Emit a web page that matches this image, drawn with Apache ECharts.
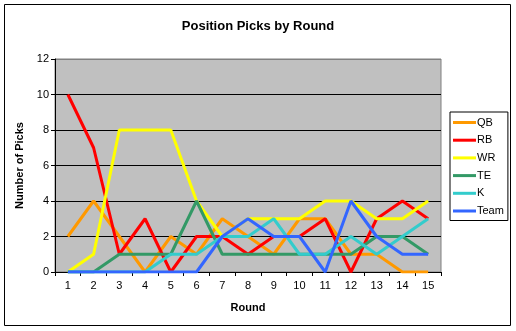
<!DOCTYPE html>
<html>
<head>
<meta charset="utf-8">
<script src="https://cdn.jsdelivr.net/npm/echarts@6/dist/echarts.min.js"></script>
<style>
html,body{margin:0;padding:0;background:#fff;}
#c{width:516px;height:331px;}
</style>
</head>
<body>
<div id="c"></div>
<script>
var rounds = ['1','2','3','4','5','6','7','8','9','10','11','12','13','14','15'];
var yTicks = [0, 2, 4, 6, 8, 10, 12];
var QB   = [2, 4, 2, 0, 2, 1, 3, 2, 1, 3, 3, 1, 1, 0, 0];
var RB   = [10, 7, 1, 3, 0, 2, 2, 1, 2, 2, 3, 0, 3, 4, 3];
var WR   = [0, 1, 8, 8, 8, 4, 2, 3, 3, 3, 4, 4, 3, 3, 4];
var TE   = [0, 0, 1, 1, 1, 4, 1, 1, 1, 1, 1, 1, 2, 2, 1];
var K    = [0, 0, 0, 0, 1, 1, 2, 2, 3, 1, 1, 2, 1, 2, 3];
var Team = [0, 0, 0, 0, 0, 0, 2, 3, 2, 2, 0, 4, 2, 1, 1];

var seriesNames = ['QB', 'RB', 'WR', 'TE', 'K', 'Team'];
var seriesData = [QB, RB, WR, TE, K, Team];
var colors = ['#FF9900', '#FF0000', '#FFFF00', '#339966', '#33CCCC', '#3366FF'];

var font = 'Arial, "Liberation Sans", sans-serif';
var chart = echarts.init(document.getElementById('c'), null, {renderer: 'canvas'});
chart.setOption({
  animation: false,
  backgroundColor: '#ffffff',
  title: {
    text: 'Position Picks by Round',
    left: 'center',
    top: 15,
    textStyle: {fontFamily: font, fontSize: 13, fontWeight: 'bold', color: '#000'}
  },
  graphic: [{
    type: 'rect',
    shape: {x: 4.5, y: 4.5, width: 506, height: 321},
    style: {fill: 'none', stroke: '#000', lineWidth: 1},
    silent: true, z: 100
  }],
  grid: {
    left: 55, right: 75, top: 59, bottom: 59,
    show: true,
    backgroundColor: '#C0C0C0',
    borderColor: '#808080',
    borderWidth: 1
  },
  legend: {
    orient: 'vertical',
    left: 450, top: 112,
    width: 58,
    padding: [4, 4, 3, 3],
    backgroundColor: '#fff',
    borderColor: '#000',
    borderWidth: 1,
    borderRadius: 0,
    icon: 'rect',
    itemWidth: 23,
    itemHeight: 3,
    itemGap: 4.7,
    textStyle: {fontFamily: font, fontSize: 11, color: '#000', lineHeight: 13, padding: [0, 0, 0, -4]},
    data: seriesNames
  },
  xAxis: {
    type: 'category',
    data: rounds,
    boundaryGap: true,
    name: 'Round',
    nameLocation: 'middle',
    nameGap: 30,
    nameTextStyle: {fontFamily: font, fontSize: 11, fontWeight: 'bold', color: '#000'},
    axisLine: {lineStyle: {color: '#000', width: 1}},
    axisTick: {show: true, inside: false, length: 4, lineStyle: {color: '#000'}},
    axisLabel: {fontFamily: font, fontSize: 11, color: '#000', margin: 8},
    splitLine: {show: false}
  },
  yAxis: {
    type: 'value',
    min: yTicks[0], max: yTicks[yTicks.length - 1], interval: 2,
    name: 'Number of Picks',
    nameLocation: 'middle',
    nameGap: 25,
    nameRotate: 90,
    nameTextStyle: {fontFamily: font, fontSize: 11, fontWeight: 'bold', color: '#000'},
    axisLine: {show: true, lineStyle: {color: '#000', width: 1}},
    axisTick: {show: true, inside: false, length: 4, lineStyle: {color: '#000'}},
    axisLabel: {fontFamily: font, fontSize: 11, color: '#000', margin: 6},
    splitLine: {show: true, lineStyle: {color: ['#000','#000','#000','#000','#000','#000','#808080'], width: 1}}
  },
  series: seriesNames.map(function (n, i) {
    return {
      name: n,
      type: 'line',
      data: seriesData[i],
      color: colors[i],
      showSymbol: false,
      symbol: 'none',
      lineStyle: {width: 3, color: colors[i]},
      itemStyle: {color: colors[i]},
      z: 2 + i
    };
  })
});
</script>
</body>
</html>
